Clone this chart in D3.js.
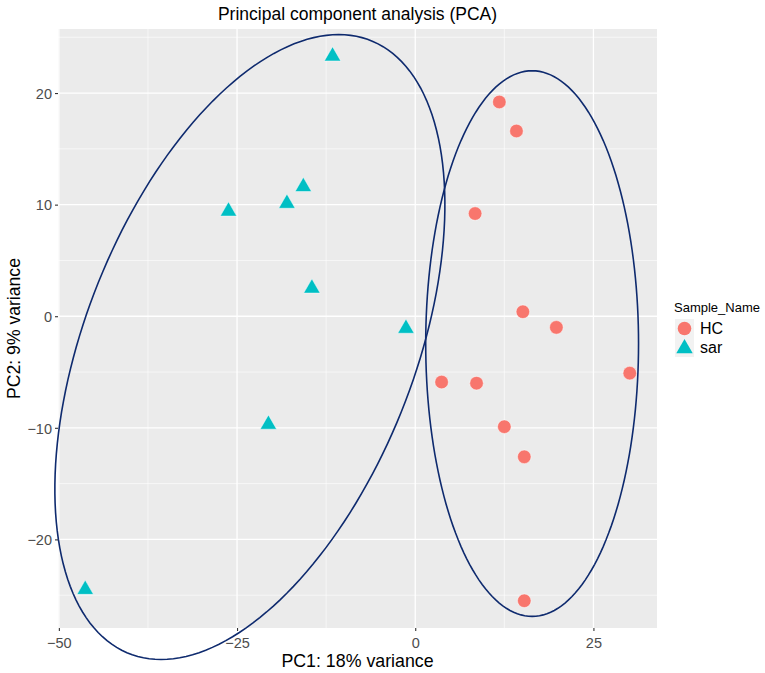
<!DOCTYPE html>
<html>
<head>
<meta charset="utf-8">
<script src="https://cdn.jsdelivr.net/npm/d3@7"></script>
<style>
  html, body { margin: 0; padding: 0; background: #ffffff; }
  svg { display: block; font-family: "Liberation Sans", Arial, sans-serif; }
</style>
</head>
<body>
<svg id="chart" width="765" height="673"></svg>
<script>
// ---- data ----
const groups = ["HC", "sar"];
const groupColors = ["#F8766D", "#00BFC4"];

const hcPC1 = [11.8, 14.2, 8.4, 15.1, 19.8, 30.1, 3.7, 8.6, 12.5, 15.3, 15.3];
const hcPC2 = [19.2, 16.6, 9.2, 0.4, -1.0, -5.1, -5.9, -6.0, -9.9, -12.6, -25.5];

const sarPC1 = [-11.6, -26.2, -18.0, -15.7, -14.5, -1.3, -20.6, -46.3];
const sarPC2 = [23.3, 9.4, 10.1, 11.6, 2.5, -1.1, -9.7, -24.5];

// ellipse outlines (one per group), in data units:
// centre, top-most point, and half width along the horizontal through the centre
const ellipseCenterX = [16.4, -23.2];
const ellipseCenterY = [-2.45, -2.76];
const ellipseTopX = [16.4, -10.74];
const ellipseTopY = [22.0, 25.24];
const ellipseHalfWidth = [14.93, 24.36];

const xTicks = [-50, -25, 0, 25];
const yTicks = [-20, -10, 0, 10, 20];
const xMinor = [-37.5, -12.5, 12.5];
const yMinor = [-25, -15, -5, 5, 15, 25];

const titleText = "Principal component analysis (PCA)";
const xLabel = "PC1: 18% variance";
const yLabel = "PC2: 9% variance";
const legendTitle = "Sample_Name";

// ---- layout ----
const panel = { left: 58, right: 657, top: 29, bottom: 628 };
const svg = d3.select("#chart");

const allX = hcPC1.concat(sarPC1), allY = hcPC2.concat(sarPC2);
const xr = d3.extent(allX), yr = d3.extent(allY);
const xe = (xr[1] - xr[0]) * 0.05, ye = (yr[1] - yr[0]) * 0.05;
const x = d3.scaleLinear().domain([xr[0] - xe, xr[1] + xe]).range([panel.left, panel.right]);
const y = d3.scaleLinear().domain([yr[0] - ye, yr[1] + ye]).range([panel.bottom, panel.top]);

// panel background
svg.append("rect")
  .attr("x", panel.left).attr("y", panel.top)
  .attr("width", panel.right - panel.left).attr("height", panel.bottom - panel.top)
  .attr("fill", "#EBEBEB");

const grid = svg.append("g");
grid.selectAll(".vminor").data(xMinor).join("line")
  .attr("x1", d => x(d)).attr("x2", d => x(d))
  .attr("y1", panel.top).attr("y2", panel.bottom)
  .attr("stroke", "#ffffff").attr("stroke-width", 0.6);
grid.selectAll(".hminor").data(yMinor).join("line")
  .attr("y1", d => y(d)).attr("y2", d => y(d))
  .attr("x1", panel.left).attr("x2", panel.right)
  .attr("stroke", "#ffffff").attr("stroke-width", 0.6);
grid.selectAll(".vmajor").data(xTicks).join("line")
  .attr("x1", d => x(d)).attr("x2", d => x(d))
  .attr("y1", panel.top).attr("y2", panel.bottom)
  .attr("stroke", "#ffffff").attr("stroke-width", 1.3);
grid.selectAll(".hmajor").data(yTicks).join("line")
  .attr("y1", d => y(d)).attr("y2", d => y(d))
  .attr("x1", panel.left).attr("x2", panel.right)
  .attr("stroke", "#ffffff").attr("stroke-width", 1.3);

// axes
const xAxis = svg.append("g").attr("transform", `translate(0,${panel.bottom})`)
  .call(d3.axisBottom(x).tickValues(xTicks).tickSize(3).tickPadding(3).tickFormat(d3.format("d")));
const yAxis = svg.append("g").attr("transform", `translate(${panel.left},0)`)
  .call(d3.axisLeft(y).tickValues(yTicks).tickSize(3).tickPadding(3).tickFormat(d3.format("d")));
[xAxis, yAxis].forEach(a => {
  a.select(".domain").remove();
  a.selectAll(".tick line").attr("stroke", "#333333").attr("stroke-width", 1.1);
  a.selectAll(".tick text").attr("fill", "#4D4D4D")
    .style("font-size", "14.5px").style("font-family", "'Liberation Sans', Arial, sans-serif");
});
xAxis.selectAll(".tick text").attr("dy", "0.95em");
yAxis.selectAll(".tick text").attr("dy", "0.36em");

// points
const hcData = hcPC1.map((v, i) => ({ x: v, y: hcPC2[i] }));
const sarData = sarPC1.map((v, i) => ({ x: v, y: sarPC2[i] }));

svg.append("g").selectAll("circle").data(hcData).join("circle")
  .attr("cx", d => x(d.x)).attr("cy", d => y(d.y)).attr("r", 6.8)
  .attr("fill", groupColors[0])
  .attr("stroke", "#ffffff").attr("stroke-opacity", 0.55).attr("stroke-width", 0.9);

const triR = 9.5; // centroid-to-apex distance
const triPath = (cx, cy, r) => {
  const h = r * Math.sqrt(3) / 2;
  return `M${cx},${cy - r}L${cx + h},${cy + r / 2}L${cx - h},${cy + r / 2}Z`;
};
svg.append("g").selectAll("path").data(sarData).join("path")
  .attr("d", d => triPath(x(d.x), y(d.y), triR))
  .attr("fill", groupColors[1])
  .attr("stroke", "#ffffff").attr("stroke-opacity", 0.55).attr("stroke-width", 0.9);

// ellipses (not clipped, like the reference)
const line = d3.line().x(p => x(p[0])).y(p => y(p[1])).curve(d3.curveLinearClosed);
const angles = d3.range(0, 360, 2).map(a => a * Math.PI / 180);
ellipseCenterX.forEach((cx, i) => {
  const cy = ellipseCenterY[i];
  const ux = ellipseTopX[i] - cx, uy = ellipseTopY[i] - cy;
  const vx = ellipseHalfWidth[i];
  const pts = angles.map(t => [cx + ux * Math.cos(t) + vx * Math.sin(t), cy + uy * Math.cos(t)]);
  svg.append("path").attr("d", line(pts))
    .attr("fill", "none").attr("stroke", "#0E2A6E").attr("stroke-width", 1.6);
});

// titles
svg.append("text").attr("x", (panel.left + panel.right) / 2).attr("y", 20)
  .attr("text-anchor", "middle").style("font-size", "17.5px").attr("fill", "#000")
  .text(titleText);
svg.append("text").attr("x", (panel.left + panel.right) / 2).attr("y", 667)
  .attr("text-anchor", "middle").style("font-size", "17.8px").attr("fill", "#000")
  .text(xLabel);
svg.append("text")
  .attr("transform", `translate(20,${(panel.top + panel.bottom) / 2}) rotate(-90)`)
  .attr("text-anchor", "middle").style("font-size", "17.6px").attr("fill", "#000")
  .text(yLabel);

// legend
const lg = svg.append("g").attr("transform", "translate(674,0)");
lg.append("text").attr("x", 0).attr("y", 312).style("font-size", "13px").attr("fill", "#000").text(legendTitle);
const keyY = [328.5, 347.5];
lg.selectAll("rect.key").data(groups).join("rect")
  .attr("x", 1).attr("y", (d, i) => keyY[i] - 9.5).attr("width", 19).attr("height", 19)
  .attr("fill", "#F2F2F2");
lg.append("circle").attr("cx", 10.5).attr("cy", keyY[0]).attr("r", 6.8).attr("fill", groupColors[0]);
lg.append("path").attr("d", triPath(10.5, keyY[1] + 1, triR)).attr("fill", groupColors[1]);
lg.selectAll("text.lab").data(groups).join("text")
  .attr("x", 26).attr("y", (d, i) => keyY[i]).attr("dy", "0.36em")
  .style("font-size", "16px").attr("fill", "#000").text(d => d);
</script>
</body>
</html>
